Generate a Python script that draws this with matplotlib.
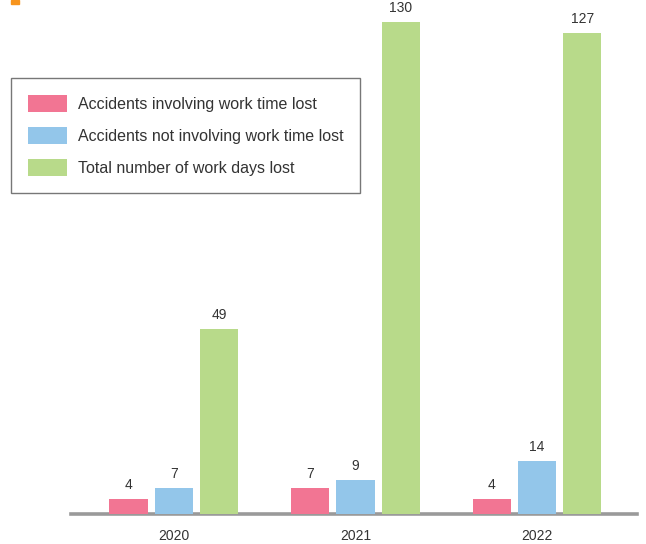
import matplotlib
matplotlib.use("Agg")
import matplotlib.pyplot as plt
from matplotlib.patches import Rectangle
import numpy as np

years = ["2020", "2021", "2022"]
lost_time = [4, 7, 4]
no_lost_time = [7, 9, 14]
days_lost = [49, 130, 127]
series_labels = [
    "Accidents involving work time lost",
    "Accidents not involving work time lost",
    "Total number of work days lost",
]
colors = ["#F27593", "#93C6EA", "#B8DA8A"]

plt.rcParams["font.family"] = ["Liberation Sans", "DejaVu Sans"]

fig = plt.figure(figsize=(6.46, 5.44), dpi=100)
W, H = 646, 544
ax = fig.add_axes([71 / W, (544 - 514) / H, 566 / W, 514 / H])

x = np.arange(len(years))
offset = 0.25
width = 0.21
series = [lost_time, no_lost_time, days_lost]
for i, (vals, c, lab) in enumerate(zip(series, colors, series_labels)):
    b = ax.bar(x + (i - 1) * offset, vals, width, color=c, label=lab, zorder=3)
    for rect, v in zip(b, vals):
        ax.annotate(str(v), (rect.get_x() + rect.get_width() / 2, v),
                    xytext=(0, 5), textcoords="offset points",
                    ha="center", va="bottom", fontsize=10, color="#333333")

ax.set_xlim(-0.567, 2.551)
ax.set_ylim(0, 135.8)
for s in ["top", "right", "left"]:
    ax.spines[s].set_visible(False)
ax.spines["bottom"].set_color("#9a9a9a")
ax.spines["bottom"].set_linewidth(2.6)
ax.spines["bottom"].set_zorder(2)
ax.set_yticks([])
ax.set_xticks(x)
ax.set_xticklabels(years, fontsize=10, color="#333333")
ax.tick_params(axis="x", length=0, pad=11)
ax.set_facecolor("none")

leg = ax.legend(loc="upper left", bbox_to_anchor=(11 / W, 1 - 78 / H),
                bbox_transform=fig.transFigure, fontsize=11.5,
                frameon=True, fancybox=False, edgecolor="#555555",
                handlelength=2.45, handleheight=1.25, handletextpad=0.7,
                labelspacing=0.95, borderpad=1.05, borderaxespad=0,
                labelcolor="#333333")
leg.get_frame().set_linewidth(1.0)

# small accent mark in the upper-left corner
fig.patches.append(Rectangle((11 / W, 1 - 4 / H), 8 / W, 4 / H,
                             transform=fig.transFigure, color="#F7941D"))

fig.savefig("out.png", dpi=100)
